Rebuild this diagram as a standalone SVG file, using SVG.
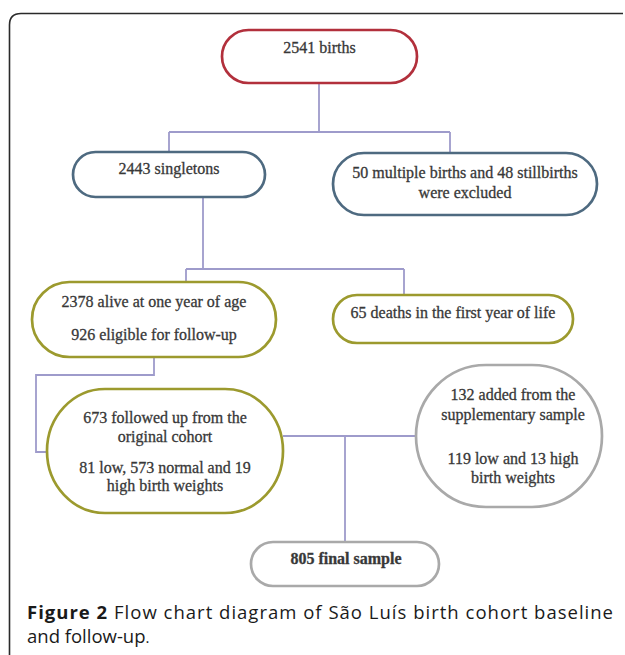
<svg xmlns="http://www.w3.org/2000/svg" width="625" height="655" viewBox="0 0 625 655">
<style>
.n{fill:#ffffff;stroke-width:2.7}
.red{stroke:#b2303c}
.blue{stroke:#4e6a80}
.olive{stroke:#9c9a2e}
.gray{stroke:#a9a9a9}
.t{font-family:"Liberation Serif","Times New Roman",serif;font-size:16px;fill:#383838;stroke:#383838;stroke-width:0.3;text-anchor:middle}
.b{font-weight:bold}
.c{stroke:#9e9bcb;stroke-width:1.8;fill:none}
.cap{font-family:"Open Sans","Liberation Sans",sans-serif;font-size:18.5px;fill:#1a1a1a}
</style>
<rect width="625" height="655" fill="#ffffff"/>
<path d="M9.5,655 V25 Q9.5,13.5 21,13.5 H623" fill="none" stroke="#2a2a2a" stroke-width="1.6"/>
<g id="connectors">
<path class="c" d="M319,83 V132 M169,132 H450 M169,132 V152 M450,132 V153"/>
<path class="c" d="M203,197 V269 M186,269 H404 M186,269 V282 M404,269 V295"/>
<path class="c" d="M154,357 V375 H36 V452 H47"/>
<path class="c" d="M283,436 H416 M345,436 V542"/>
</g>
<g id="n1">
<rect class="n red" x="222" y="30" width="195" height="53" rx="26.5"/>
<text class="t" x="319.5" y="53">2541 births</text>
</g>
<g id="n2">
<rect class="n blue" x="73" y="152" width="192" height="45" rx="22.5"/>
<text class="t" x="169" y="174">2443 singletons</text>
</g>
<g id="n3">
<rect class="n blue" x="333" y="153" width="264" height="62" rx="31"/>
<text class="t" x="465" y="178">50 multiple births and 48 stillbirths</text>
<text class="t" x="465" y="198">were excluded</text>
</g>
<g id="n4">
<rect class="n olive" x="32" y="282" width="244" height="75" rx="37.5"/>
<text class="t" x="154" y="307">2378 alive at one year of age</text>
<text class="t" x="154" y="340">926 eligible for follow-up</text>
</g>
<g id="n5">
<rect class="n olive" x="333" y="295" width="240" height="48" rx="24"/>
<text class="t" x="453" y="318">65 deaths in the first year of life</text>
</g>
<g id="n6">
<rect class="n olive" x="47" y="389" width="236" height="124" rx="58" ry="62"/>
<text class="t" x="165" y="423">673 followed up from the</text>
<text class="t" x="165" y="442">original cohort</text>
<text class="t" x="165" y="473">81 low, 573 normal and 19</text>
<text class="t" x="165" y="491">high birth weights</text>
</g>
<g id="n7">
<rect class="n gray" x="416" y="365" width="186" height="142" rx="70" ry="71"/>
<text class="t" x="513" y="400">132 added from the</text>
<text class="t" x="513" y="420">supplementary sample</text>
<text class="t" x="513" y="464">119 low and 13 high</text>
<text class="t" x="513" y="483">birth weights</text>
</g>
<g id="n8">
<rect class="n gray" x="251" y="542" width="188" height="44" rx="22"/>
<text class="t b" x="346" y="564">805 final sample</text>
</g>
<text class="cap" x="27" y="619" textLength="586" lengthAdjust="spacing"><tspan font-weight="bold">Figure 2</tspan> Flow chart diagram of São Luís birth cohort baseline</text>
<text class="cap" x="27" y="643">and follow-up<tspan font-size="15">.</tspan></text>
</svg>
